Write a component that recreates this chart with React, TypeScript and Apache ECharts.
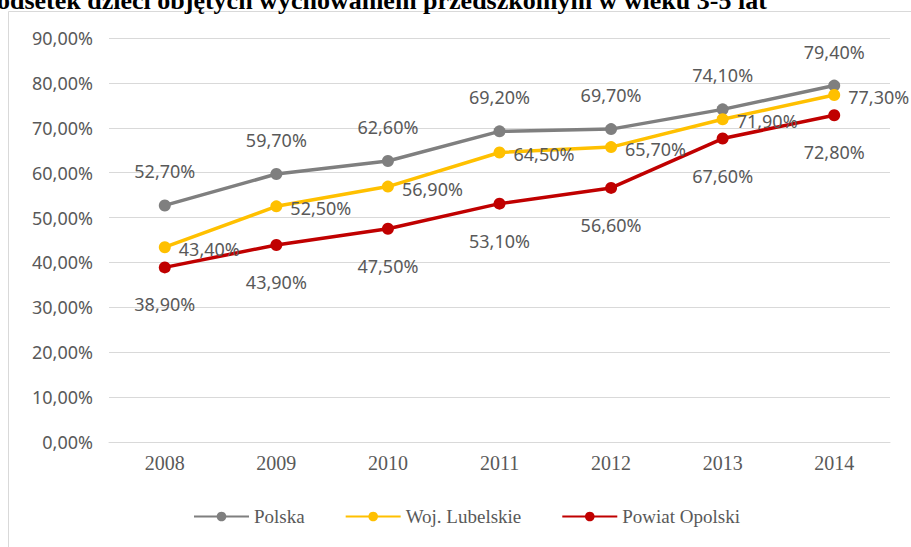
import React, { useEffect, useRef } from "react";
import * as echarts from "echarts";

const years = ["2008", "2009", "2010", "2011", "2012", "2013", "2014"];
const polska = [52.7, 59.7, 62.6, 69.2, 69.7, 74.1, 79.4];
const lubelskie = [43.4, 52.5, 56.9, 64.5, 65.7, 71.9, 77.3];
const opolski = [38.9, 43.9, 47.5, 53.1, 56.6, 67.6, 72.8];
const seriesNames = ["Polska", "Woj. Lubelskie", "Powiat Opolski"];
const titleText = "odsetek dzieci objętych wychowaniem przedszkolnym w wieku 3-5 lat";

const pct = (v: number) => v.toFixed(2).replace(".", ",") + "%";
const SANS = "'Noto Sans', 'Open Sans', sans-serif";
const SERIF = "'Liberation Serif', 'DejaVu Serif', serif";
const TXT = "#595959";

export default function App() {
  const ref = useRef<HTMLDivElement>(null);
  useEffect(() => {
    if (!ref.current) return;
    const chart = echarts.init(ref.current, undefined, { renderer: "svg" });
    const label = (position: string, distance: number, offset?: number[]) => ({
      show: true,
      position,
      distance,
      offset,
      color: TXT,
      fontFamily: SANS,
      fontSize: 18,
      formatter: (p: any) => pct(p.value),
    });
    const mk = (name: string, data: number[], color: string, lab: any) => ({
      name,
      type: "line",
      data,
      symbol: "circle",
      symbolSize: 12,
      lineStyle: { color, width: 3.5 },
      itemStyle: { color },
      label: lab,
      z: 3,
    });
    chart.setOption({
      animation: false,
      backgroundColor: "#ffffff",
      graphic: [
        {
          type: "rect",
          shape: { x: 8.5, y: 11.5, width: 940, height: 600 },
          style: { fill: "none", stroke: "#d9d9d9", lineWidth: 1 },
          silent: true,
        },
        {
          type: "text",
          x: -3,
          y: 13,
          style: {
            text: titleText,
            font: "bold 26px 'Liberation Serif', serif",
            fill: "#000000",
            verticalAlign: "bottom",
          },
        },
      ],
      grid: { left: 109, right: 21, top: 38, bottom: 105, containLabel: false },
      xAxis: {
        type: "category",
        data: years,
        boundaryGap: true,
        axisLine: { show: true, lineStyle: { color: "#d9d9d9" } },
        axisTick: { show: false },
        axisLabel: { color: TXT, fontFamily: SERIF, fontSize: 20, margin: 11 },
      },
      yAxis: {
        type: "value",
        min: 0,
        max: 90,
        interval: 10,
        axisLine: { show: false },
        axisTick: { show: false },
        splitLine: { lineStyle: { color: "#d9d9d9" } },
        axisLabel: {
          color: TXT,
          fontFamily: SANS,
          fontSize: 18,
          margin: 16,
          formatter: (v: number) => pct(v),
        },
      },
      legend: {
        data: seriesNames,
        bottom: 16,
        left: 188,
        itemWidth: 55,
        itemHeight: 12,
        itemGap: 40,
        textStyle: { color: TXT, fontFamily: SERIF, fontSize: 19 },
      },
      series: [
        mk(seriesNames[0], polska, "#7f7f7f", label("top", 19)),
        mk(seriesNames[1], lubelskie, "#FFC000", label("right", 8, [0, 2])),
        mk(seriesNames[2], opolski, "#C00000", label("bottom", 22)),
      ],
    });
    return () => chart.dispose();
  }, []);
  return (
    <div
      ref={ref}
      style={{ position: "fixed", left: 0, top: 0, width: 911, height: 547 }}
    />
  );
}
